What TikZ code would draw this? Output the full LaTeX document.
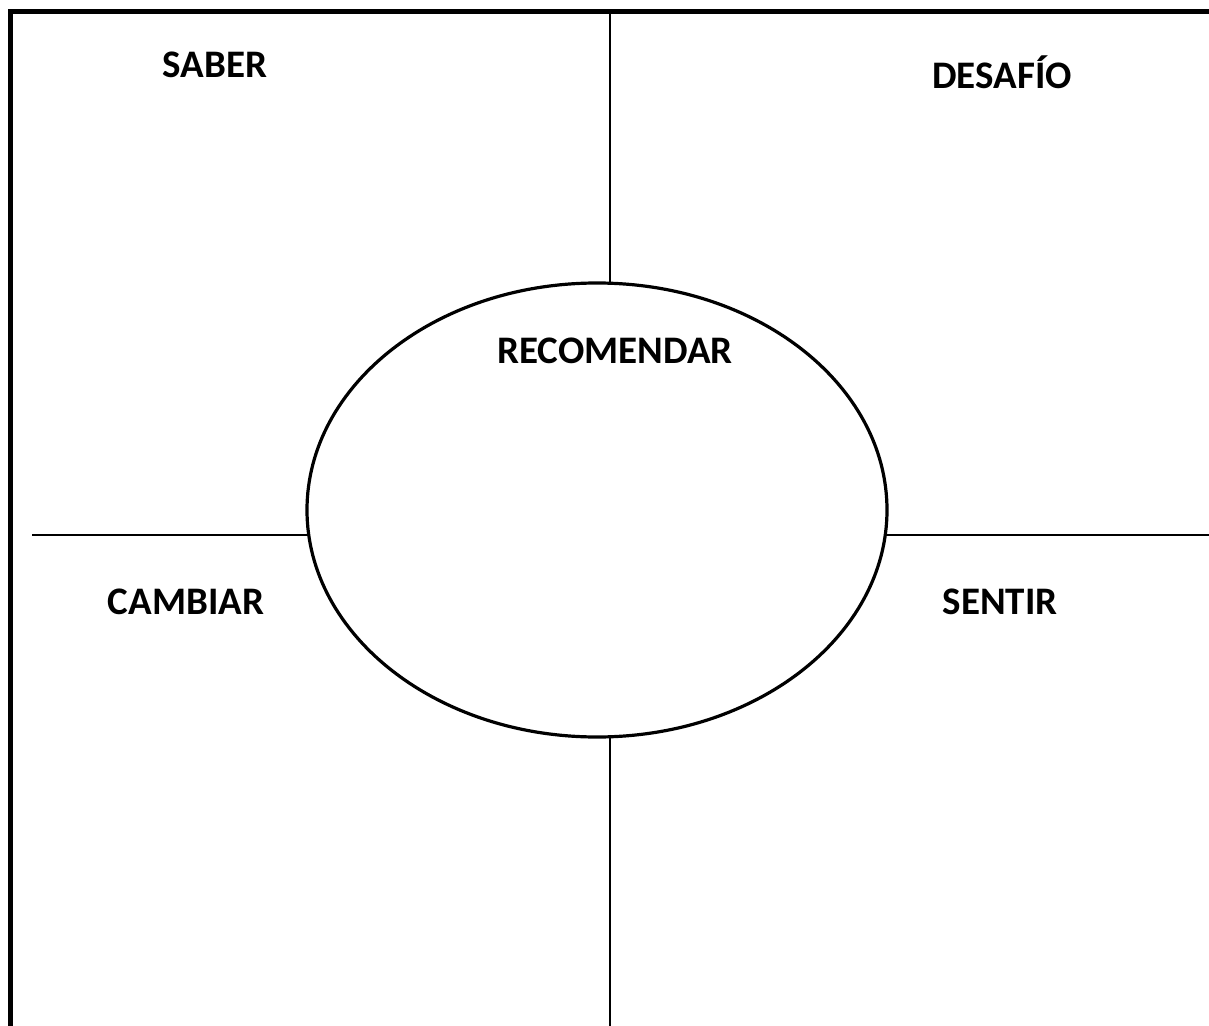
\documentclass[tikz,border=0pt]{standalone}
\usepackage{fontspec}
\setmainfont{Carlito}
\usepackage{tikz}
\usetikzlibrary{shapes.geometric, positioning}

\begin{document}
\begin{tikzpicture}[x=0.5pt, y=-0.5pt,
        word/.style={font=\bfseries\fontsize{19.5}{23}\selectfont, inner sep=0pt},
        frame/.style={draw, line width=2.5pt},
        quad/.style={draw, line width=1pt},
        centre/.style={ellipse, draw, line width=1.6pt, inner sep=0pt, outer sep=0pt,
                       minimum width=290pt, minimum height=227pt}]
        \clip (0,0) rectangle (1209,1026);
        \draw[frame] (10,12) rectangle (1260,1080);
        
        \node[centre] (rec) at (597,510) {};
        \node[word] (recl) at (615,351) {RECOMENDAR};
        \node[word] (saber) at (215,65) {SABER};
        \node[word] (desafio) at (1002,72) {DESAFÍO};
        \node[word] (cambiar) at (186,602) {CAMBIAR};
        \node[word] (sentir) at (1000,602) {SENTIR};
        
        \coordinate (top) at (610,12);
        \coordinate (bot) at (610,1040);
        \coordinate (lft) at (32,535);
        \coordinate (rgt) at (1220,535);
        
        \path[quad]
        (top) edge (top |- rec.north)
        (bot |- rec.south) edge (bot)
        (lft) edge ([xshift=1pt]lft -| rec.west)
        ([xshift=-1pt]rec.east |- rgt) edge (rgt);
    \end{tikzpicture}
\end{document}
